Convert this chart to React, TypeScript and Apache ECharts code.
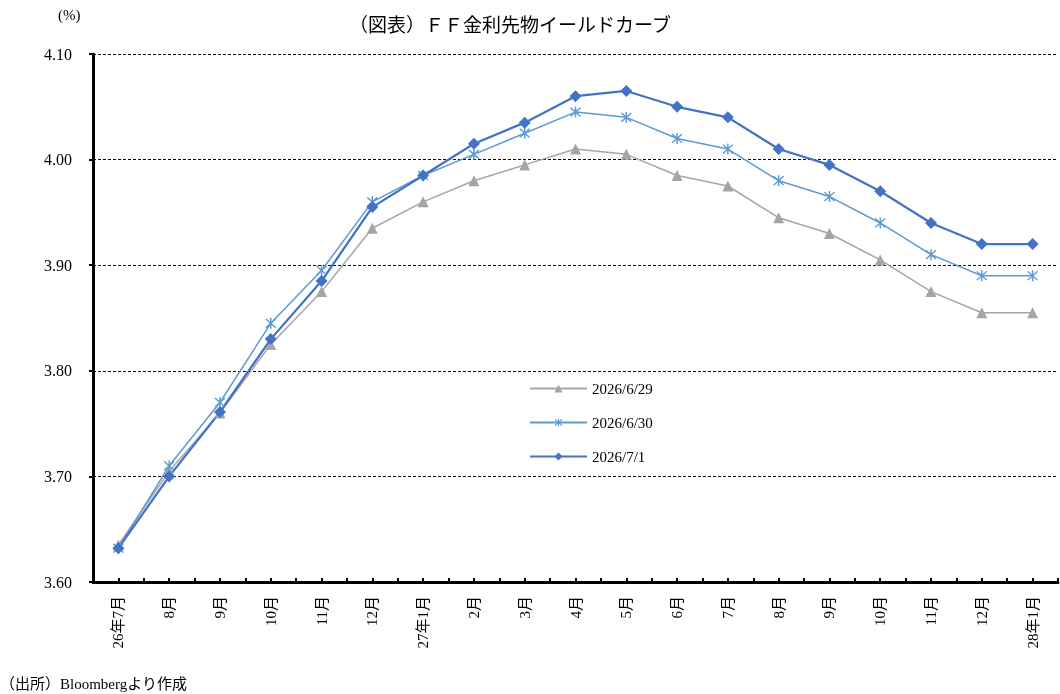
import React, { useEffect, useRef } from "react";
import * as echarts from "echarts";

const categories = [
  "26年7月", "8月", "9月", "10月", "11月", "12月",
  "27年1月", "2月", "3月", "4月", "5月", "6月",
  "7月", "8月", "9月", "10月", "11月", "12月", "28年1月",
];

const series0629 = [
  3.635, 3.705, 3.76, 3.825, 3.875, 3.935, 3.96, 3.98, 3.995, 4.01,
  4.005, 3.985, 3.975, 3.945, 3.93, 3.905, 3.875, 3.855, 3.855,
];
const series0630 = [
  3.632, 3.71, 3.77, 3.845, 3.895, 3.96, 3.985, 4.005, 4.025, 4.045,
  4.04, 4.02, 4.01, 3.98, 3.965, 3.94, 3.91, 3.89, 3.89,
];
const series0701 = [
  3.632, 3.70, 3.761, 3.83, 3.885, 3.955, 3.985, 4.015, 4.035, 4.06,
  4.065, 4.05, 4.04, 4.01, 3.995, 3.97, 3.94, 3.92, 3.92,
];

const seriesNames = ["2026/6/29", "2026/6/30", "2026/7/1"];
const yTicks = { min: 3.6, max: 4.1, interval: 0.1 };

const FONT = "'Liberation Serif', 'DejaVu Serif', 'Noto Sans CJK JP', serif";

// six-armed star marker (vertical bar plus an X)
const STAR =
  "path://M-0.6,-5 L0.6,-5 L0.6,5 L-0.6,5 Z " +
  "M-4.42,-3.58 L-3.58,-4.42 L4.42,3.58 L3.58,4.42 Z " +
  "M-4.42,3.58 L3.58,-4.42 L4.42,-3.58 L-3.58,4.42 Z";

export default function App() {
  const ref = useRef<HTMLDivElement>(null);

  useEffect(() => {
    if (!ref.current) return;
    const chart = echarts.init(ref.current, undefined, { renderer: "svg" });
    chart.setOption({
      animation: false,
      textStyle: { fontFamily: FONT, color: "#000" },
      title: {
        text: "（図表）ＦＦ金利先物イールドカーブ",
        left: 505,
        top: 11,
        textAlign: "center",
        textStyle: { fontFamily: FONT, fontSize: 19, fontWeight: "normal", color: "#000" },
      },
      graphic: [
        {
          type: "text",
          left: 58,
          top: 7,
          style: { text: "(%)", font: `15px ${FONT}`, fill: "#000" },
        },
        {
          type: "text",
          left: 0,
          top: 676,
          style: { text: "（出所）Bloombergより作成", font: `15px ${FONT}`, fill: "#000" },
        },
      ],
      legend: {
        orient: "vertical",
        left: 524,
        top: 376,
        itemGap: 19,
        itemWidth: 57,
        itemHeight: 10,
        data: seriesNames,
        textStyle: { fontFamily: FONT, fontSize: 15, color: "#000" },
      },
      grid: { left: 93, right: 2, top: 54, bottom: 112 },
      xAxis: [
        {
          type: "category",
          data: categories,
          boundaryGap: true,
          axisLine: { lineStyle: { color: "#000", width: 3 } },
          axisTick: { show: true, inside: true, length: 4, alignWithLabel: true, interval: 0, lineStyle: { color: "#000", width: 2 } },
          axisLabel: { interval: 0, rotate: 90, margin: 14, fontSize: 15, color: "#000", fontFamily: FONT },
        },
        {
          type: "category",
          data: categories,
          position: "bottom",
          boundaryGap: true,
          axisLine: { show: false },
          axisTick: { show: true, inside: true, length: 4, interval: 0, lineStyle: { color: "#000", width: 2 } },
          axisLabel: { show: false },
        },
      ],
      yAxis: {
        type: "value",
        min: yTicks.min,
        max: yTicks.max,
        interval: yTicks.interval,
        axisLine: { show: true, lineStyle: { color: "#000", width: 3 } },
        axisTick: { show: true, length: 4, lineStyle: { color: "#000", width: 2 } },
        axisLabel: { margin: 21, fontSize: 16, color: "#000", fontFamily: FONT, formatter: (v: number) => v.toFixed(2) },
        splitLine: { show: true, lineStyle: { color: "#000", type: [3, 2], width: 1 } },
      },
      series: [
        {
          name: seriesNames[0],
          type: "line",
          data: series0629,
          symbol: "triangle",
          symbolSize: 11,
          lineStyle: { color: "#A5A5A5", width: 1.5 },
          itemStyle: { color: "#A5A5A5" },
        },
        {
          name: seriesNames[1],
          type: "line",
          data: series0630,
          symbol: STAR,
          symbolSize: 11,
          lineStyle: { color: "#5B9BD5", width: 1.5 },
          itemStyle: { color: "#5B9BD5" },
        },
        {
          name: seriesNames[2],
          type: "line",
          data: series0701,
          symbol: "diamond",
          symbolSize: 12,
          lineStyle: { color: "#4472C4", width: 2.25 },
          itemStyle: { color: "#4472C4" },
        },
      ],
    });
    return () => chart.dispose();
  }, []);

  return (
    <div
      ref={ref}
      style={{ position: "fixed", left: 0, top: 0, width: 1060, height: 694 }}
    />
  );
}
